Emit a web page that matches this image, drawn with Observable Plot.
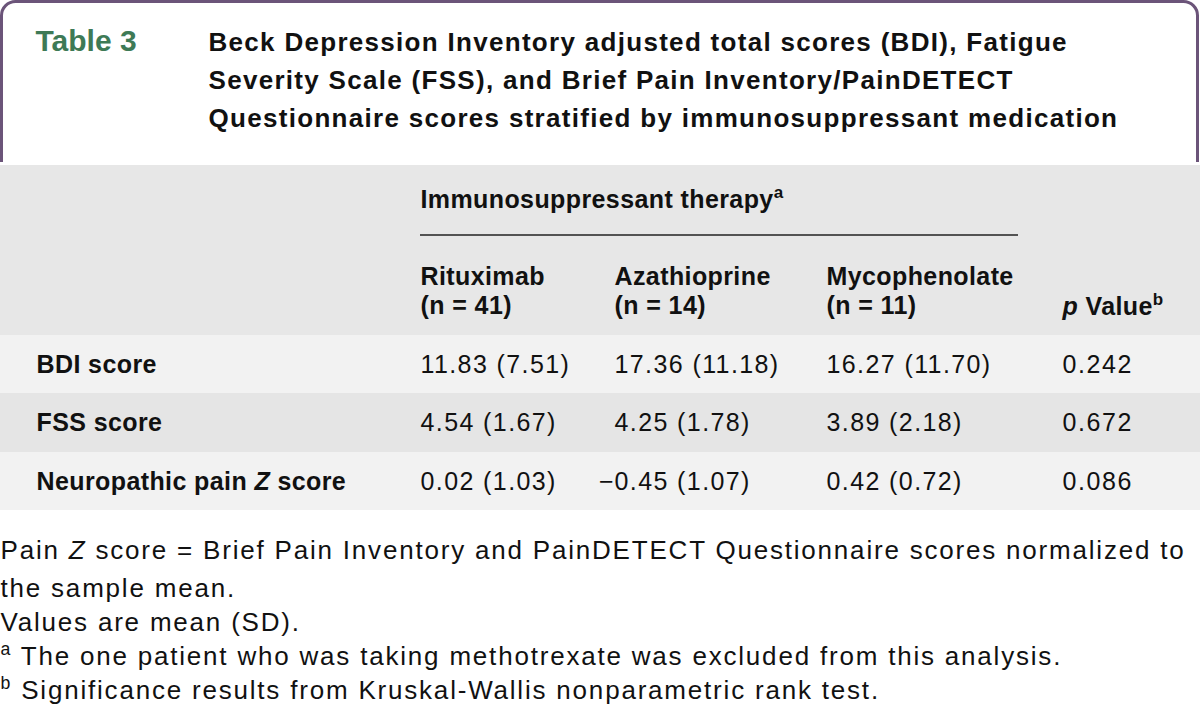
<!DOCTYPE html>
<html><head><meta charset="utf-8">
<script src="https://cdn.jsdelivr.net/npm/d3@7"></script>
<script src="https://cdn.jsdelivr.net/npm/@observablehq/plot@0.6"></script>
<style>html,body{margin:0;padding:0;background:#fff}svg{display:block}</style>
</head><body><div id="chart"></div>
<script>
// ---------- data ----------
const tableLabel = "Table 3";
const titleLines = [
  "Beck Depression Inventory adjusted total scores (BDI), Fatigue",
  "Severity Scale (FSS), and Brief Pain Inventory/PainDETECT",
  "Questionnaire scores stratified by immunosuppressant medication"
];
const spanHeader = "Immunosuppressant therapy^a";
const groups = ["Rituximab", "Azathioprine", "Mycophenolate"];
const groupN = [41, 14, 11];
const pHeader = "*p* Value^b";
const measures = ["BDI score", "FSS score", "Neuropathic pain *Z* score"];
const means = [[11.83, 17.36, 16.27], [4.54, 4.25, 3.89], [0.02, -0.45, 0.42]];
const sds = [[7.51, 11.18, 11.70], [1.67, 1.78, 2.18], [1.03, 1.07, 0.72]];
const pValues = ["0.242", "0.672", "0.086"];
const footnotes = [
  "Pain *Z* score = Brief Pain Inventory and PainDETECT Questionnaire scores normalized to",
  "the sample mean.",
  "Values are mean (SD).",
  "^a The one patient who was taking methotrexate was excluded from this analysis.",
  "^b Significance results from Kruskal-Wallis nonparametric rank test."
];

// ---------- layout ----------
const W = 1200, H = 724;
const FONT = "Liberation Sans, Arial, Helvetica, sans-serif";
const colLabelX = 36;
const colX = [420, 614, 826];
const colPX = 1062;
const titleX = 208, tableLabelX = 35;
const titleBase = [50, 88, 126];
const headTop = 165, headBottom = 335;
const rowEdges = [335, 393, 452, 510];
const rowFills = ["#f2f2f2", "#e5e5e5", "#f2f2f2"];
const footBase = [558, 596, 630, 664, 698];
const spacing = {title: 1.3, head: 0.4, label: 0.4, cell: 1.4, pval: 1.6, foot: 1.8};

const fmt2 = d3.format(".2f");
const cells = [];
measures.forEach((m, i) => groups.forEach((g, j) => {
  cells.push({
    row: i, col: j,
    neg: means[i][j] < 0,
    text: `${fmt2(Math.abs(means[i][j]))} (${fmt2(sds[i][j])})`
  });
}));
const rows = measures.map((m, i) => ({label: m, p: pValues[i], i,
  y1: rowEdges[i], y2: rowEdges[i + 1], base: (rowEdges[i] + rowEdges[i + 1]) / 2 + 8, fill: rowFills[i]}));

const textBase = {fontFamily: FONT, lineAnchor: "bottom", textAnchor: "start", fill: "#111"};

const chart = Plot.plot({
  width: W, height: H,
  margin: 0,
  x: {domain: [0, W], range: [0, W], axis: null},
  y: {domain: [0, H], range: [0, H], axis: null},
  style: {background: "#fff", fontFamily: FONT},
  marks: [
    // outer rounded frame
    Plot.rect([0], {x1: 1.5, x2: W - 2.5, y1: 1.5, y2: 240, rx: 14, fill: "#fff", stroke: "#6b5479", strokeWidth: 3}),
    Plot.rect([0], {x1: 0, x2: W, y1: 162, y2: headTop, fill: "#fff"}),
    // header band
    Plot.rect([0], {x1: 0, x2: W, y1: headTop, y2: headBottom, fill: "#e7e7e7"}),
    // body bands
    Plot.rect(rows, {x1: 0, x2: W, y1: "y1", y2: "y2", fill: "fill"}),
    Plot.rect([0], {x1: 0, x2: W, y1: rowEdges[3], y2: H, fill: "#fff"}),
    // title
    Plot.text([tableLabel], {...textBase, ariaDescription: "tablelabel", x: tableLabelX, y: 50, text: d => d, fontSize: 30, fontWeight: "bold", fill: "#3e7a56"}),
    Plot.text(titleLines, {...textBase, ariaDescription: "title", x: titleX, y: (d, i) => titleBase[i], text: d => d, fontSize: 26, fontWeight: "bold"}),
    // spanning header + rule
    Plot.text([spanHeader], {...textBase, ariaDescription: "head", x: colX[0], y: 207, text: d => d, fontSize: 25, fontWeight: "bold"}),
    Plot.ruleY([234.5], {x1: colX[0], x2: 1018, stroke: "#222", strokeWidth: 1.3}),
    // column headers
    Plot.text(groups, {...textBase, ariaDescription: "head", x: (d, i) => colX[i], y: 284, text: d => d, fontSize: 25, fontWeight: "bold"}),
    Plot.text(groupN, {...textBase, ariaDescription: "head", x: (d, i) => colX[i], y: 313, text: d => `(n = ${d})`, fontSize: 25, fontWeight: "bold"}),
    Plot.text([pHeader], {...textBase, ariaDescription: "head", x: colPX, y: 314, text: d => d, fontSize: 25, fontWeight: "bold"}),
    // row labels
    Plot.text(rows, {...textBase, ariaDescription: "label", x: colLabelX, y: "base", text: "label", fontSize: 25, fontWeight: "bold"}),
    // cells
    Plot.text(cells, {...textBase, ariaDescription: "cell", x: d => colX[d.col], y: d => rows[d.row].base, text: "text", fontSize: 25}),
    Plot.text(cells.filter(d => d.neg), {...textBase, ariaDescription: "minus", textAnchor: "end", x: d => colX[d.col] - 1, y: d => rows[d.row].base, text: () => "\u2212", fontSize: 25}),
    Plot.text(rows, {...textBase, ariaDescription: "pval", x: colPX, y: "base", text: "p", fontSize: 25}),
    // footnotes
    Plot.text(footnotes, {...textBase, ariaDescription: "foot", x: 0, y: (d, i) => footBase[i], text: d => d, fontSize: 26})
  ]
});

const svg = d3.select(chart);
for (const [k, v] of Object.entries(spacing)) {
  svg.selectAll(`g[aria-description="${k}"] text`).style("letter-spacing", v + "px");
}

// rich-text post-processing: ^x superscript, *x* italic
svg.selectAll("text").each(function () {
  const el = d3.select(this);
  if (this.querySelector("tspan")) return;
  const s = this.textContent;
  if (!/[\^*]/.test(s)) return;
  const parts = [];
  const re = /\^(\w)|\*([^*]+)\*/g;
  let last = 0, m;
  while ((m = re.exec(s))) {
    if (m.index > last) parts.push({t: s.slice(last, m.index)});
    if (m[1]) parts.push({t: m[1], sup: true}); else parts.push({t: m[2], it: true});
    last = re.lastIndex;
  }
  if (last < s.length) parts.push({t: s.slice(last)});
  el.text(null);
  let shifted = false;
  for (const p of parts) {
    const ts = el.append("tspan").text(p.t);
    if (p.sup) { ts.attr("font-size", "0.68em").attr("dy", "-0.55em"); shifted = true; }
    else if (shifted) { ts.attr("dy", "0.374em"); shifted = false; }
    if (p.it) ts.attr("font-style", "italic");
  }
});

document.getElementById("chart").appendChild(chart);
</script>
</body></html>
